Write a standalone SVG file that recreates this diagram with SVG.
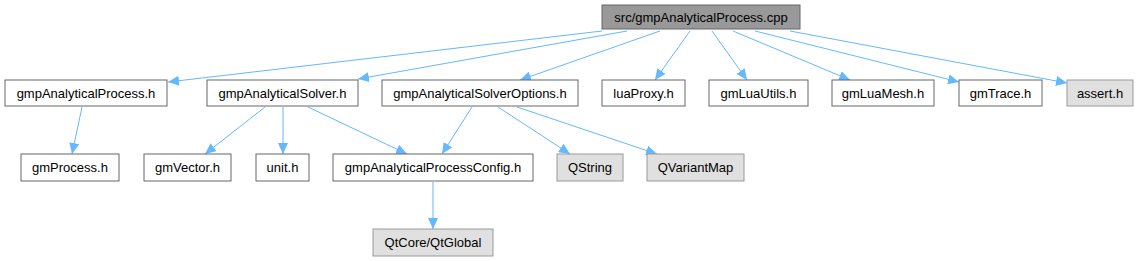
<svg xmlns="http://www.w3.org/2000/svg" width="1141" height="261" viewBox="0 0 1141 261">
<style>
.n rect{fill:#ffffff;stroke:#666666;stroke-width:1}
.n.r rect{fill:#999999}
.n.g rect{fill:#e0e0e0;stroke:#999999}
.n text{font-family:"Liberation Sans",Arial,sans-serif;font-size:13px;fill:#000;text-anchor:middle}
.e path{fill:none;stroke:#63b8ff;stroke-width:1}
</style>
<defs>
<marker id="a" markerUnits="userSpaceOnUse" markerWidth="12" markerHeight="10" refX="11" refY="5" orient="auto">
<path d="M0,0 L11,5 L0,10 Z" fill="#63b8ff"/>
</marker>
</defs>
<rect width="1141" height="261" fill="#ffffff"/>
<g class="e" marker-end="url(#a)">
<path d="M602,31 L168,82" marker-end="url(#a)"/>
<path d="M627,31 L358,79" marker-end="url(#a)"/>
<path d="M660,31 L520,80" marker-end="url(#a)"/>
<path d="M690,31 L655,80" marker-end="url(#a)"/>
<path d="M712,31 L747,80" marker-end="url(#a)"/>
<path d="M733,31 L850,80" marker-end="url(#a)"/>
<path d="M755,31 L959,82" marker-end="url(#a)"/>
<path d="M790,31 L1067,83" marker-end="url(#a)"/>
<path d="M82,107 L72,154" marker-end="url(#a)"/>
<path d="M265,107 L205,154" marker-end="url(#a)"/>
<path d="M283,107 L283,154" marker-end="url(#a)"/>
<path d="M308,107 L407,154" marker-end="url(#a)"/>
<path d="M472,107 L442,154" marker-end="url(#a)"/>
<path d="M498,107 L570,154" marker-end="url(#a)"/>
<path d="M517,107 L657,154" marker-end="url(#a)"/>
<path d="M433,182 L433,229" marker-end="url(#a)"/>
</g>
<g id="root" class="n r"><rect x="602" y="5" width="198" height="24"/><text x="701" y="22">src/gmpAnalyticalProcess.cpp</text></g>
<g id="n1" class="n"><rect x="5" y="80" width="162" height="26"/><text x="86" y="98">gmpAnalyticalProcess.h</text></g>
<g id="n2" class="n"><rect x="207" y="80" width="151" height="26"/><text x="282.5" y="98">gmpAnalyticalSolver.h</text></g>
<g id="n3" class="n"><rect x="382" y="80" width="196" height="26"/><text x="480" y="98">gmpAnalyticalSolverOptions.h</text></g>
<g id="n4" class="n"><rect x="602" y="80" width="83" height="26"/><text x="643.5" y="98">luaProxy.h</text></g>
<g id="n5" class="n"><rect x="709" y="80" width="99" height="26"/><text x="758.5" y="98">gmLuaUtils.h</text></g>
<g id="n6" class="n"><rect x="832" y="80" width="102" height="26"/><text x="883" y="98">gmLuaMesh.h</text></g>
<g id="n7" class="n"><rect x="959" y="80" width="83" height="26"/><text x="1000.5" y="98">gmTrace.h</text></g>
<g id="n8" class="n g"><rect x="1067" y="80" width="66" height="26"/><text x="1100" y="98">assert.h</text></g>
<g id="n9" class="n"><rect x="21" y="154" width="98" height="27"/><text x="70" y="172">gmProcess.h</text></g>
<g id="n10" class="n"><rect x="144" y="154" width="87" height="27"/><text x="187.5" y="172">gmVector.h</text></g>
<g id="n11" class="n"><rect x="256" y="154" width="53" height="27"/><text x="282.5" y="172">unit.h</text></g>
<g id="n12" class="n"><rect x="333" y="154" width="200" height="27"/><text x="433" y="172">gmpAnalyticalProcessConfig.h</text></g>
<g id="n13" class="n g"><rect x="557" y="154" width="66" height="27"/><text x="590" y="172">QString</text></g>
<g id="n14" class="n g"><rect x="647" y="154" width="97" height="27"/><text x="695.5" y="172">QVariantMap</text></g>
<g id="n15" class="n g"><rect x="373" y="229" width="120" height="27"/><text x="433" y="247">QtCore/QtGlobal</text></g>
</svg>
